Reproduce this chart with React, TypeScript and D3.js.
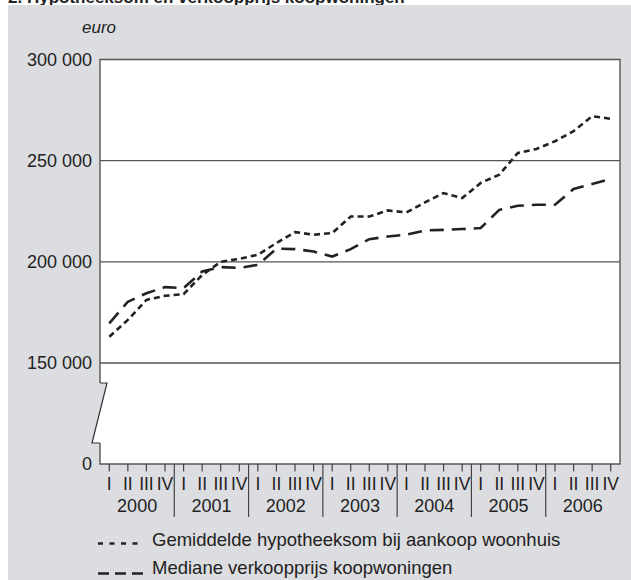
import * as d3 from 'd3';

// Gemiddelde hypotheeksom bij aankoop woonhuis (euro), per kwartaal 2000 I - 2006 IV
const hypotheeksom = [
  163000, 171300, 181200, 183200,
  184000, 193500, 200000, 201500,
  203500, 209300, 214700, 213400,
  214200, 222400, 222400, 225400,
  224400, 229400, 234000, 231500,
  239000, 243100, 253800, 255800,
  259600, 264600, 272000, 270700,
];

// Mediane verkoopprijs koopwoningen (euro)
const mediaan = [
  169600, 180300, 184500, 187500,
  187000, 195200, 197400, 197000,
  198500, 206500, 206300, 205100,
  202600, 206300, 211200, 212500,
  213400, 215500, 215800, 216200,
  216700, 225700, 227700, 228200,
  228200, 236000, 238500, 241000,
];

const years = ['2000', '2001', '2002', '2003', '2004', '2005', '2006'];
const quarters = ['I', 'II', 'III', 'IV'];
const yTicks = [0, 150000, 200000, 250000, 300000];
const gridTicks = [150000, 200000, 250000];

const title = '2. Hypotheeksom en verkoopprijs koopwoningen';
const legendLabels = [
  'Gemiddelde hypotheeksom bij aankoop woonhuis',
  'Mediane verkoopprijs koopwoningen',
];

const W = 631;
const H = 580;
const left = 100;
const right = 620;
const top = 59.5;
const bottom = 464;
const font = '"Liberation Sans", Arial, sans-serif';
const ink = '#222';

const fmt = d3
  .formatLocale({ decimal: ',', thousands: ' ', grouping: [3], currency: ['', ''] })
  .format(',');

export default function App() {
  const keys = years.flatMap((y) => quarters.map((q) => `${y}-${q}`));

  const x = d3.scaleBand<string>().domain(keys).range([left, right]).padding(0);
  const xYear = d3.scaleBand<string>().domain(years).range([left, right]).padding(0);

  // broken axis: 0-150 000 squeezed into the lower part
  const y = d3.scaleLinear().domain([0, 150000, 300000]).range([bottom, 363, top]);

  const line = d3
    .line<number>()
    .x((_, i) => (x(keys[i]) as number) + x.bandwidth() / 2)
    .y((d) => y(d));

  const breakTop = 383;
  const breakBot = 443;
  const plotShape = [
    [left, top],
    [right, top],
    [right, bottom],
    [left, bottom],
    [left, breakBot],
    [92, breakBot],
    [107, breakTop],
    [left, breakTop],
  ];

  return (
    <svg
      width={W}
      height={H}
      style={{ position: 'absolute', left: 0, top: 0 }}
      fontFamily={font}
    >
      <text x={8} y={2.5} fontSize={17} fontWeight="bold" fill={ink}>
        {title}
      </text>
      <rect x={8} y={5} width={W - 8} height={H - 5} fill="#dcdde0" />

      <polygon points={plotShape.map((p) => p.join(',')).join(' ')} fill="#fff" />

      {gridTicks.map((t) => (
        <line key={t} x1={left} x2={right} y1={y(t)} y2={y(t)} stroke="#555" strokeWidth={1.4} />
      ))}

      {/* frame */}
      <path
        d={`M${left},${breakTop}V${top}H${right}V${bottom}H${left}V${breakBot}`}
        fill="none"
        stroke="#555"
        strokeWidth={1.4}
      />
      <path
        d={`M${left},${breakTop}H107L92,${breakBot}H${left}`}
        fill="none"
        stroke="#333"
        strokeWidth={1.2}
      />

      <text x={82} y={33} fontSize={17} fontStyle="italic" fill={ink}>
        euro
      </text>

      {yTicks.map((t) => (
        <text key={t} x={92} y={y(t) + 6} fontSize={18} textAnchor="end" fill={ink}>
          {fmt(t)}
        </text>
      ))}

      {/* quarter ticks and labels */}
      {keys.map((k, i) => {
        const cx = (x(k) as number) + x.bandwidth() / 2;
        return (
          <g key={k}>
            <line x1={cx} x2={cx} y1={bottom} y2={bottom + 7.5} stroke="#444" strokeWidth={1.2} />
            <text x={cx} y={490} fontSize={17.5} textAnchor="middle" fill={ink}>
              {quarters[i % 4]}
            </text>
          </g>
        );
      })}

      {/* year separators and labels */}
      {years.map((yr, i) => {
        const x0 = xYear(yr) as number;
        return (
          <g key={yr}>
            {i > 0 && (
              <line x1={x0} x2={x0} y1={bottom} y2={517} stroke="#444" strokeWidth={1.2} />
            )}
            <text x={x0 + xYear.bandwidth() / 2} y={512} fontSize={18} textAnchor="middle" fill={ink}>
              {yr}
            </text>
          </g>
        );
      })}

      <path
        d={line(mediaan) || ''}
        fill="none"
        stroke={ink}
        strokeWidth={2.6}
        strokeDasharray="14 8"
      />
      <path
        d={line(hypotheeksom) || ''}
        fill="none"
        stroke={ink}
        strokeWidth={2.6}
        strokeDasharray="6 4"
      />

      {/* legend */}
      <line x1={98} x2={138} y1={543.5} y2={543.5} stroke={ink} strokeWidth={2.6} strokeDasharray="5 6.5" />
      <text x={152} y={546} fontSize={18.5} fill={ink}>
        {legendLabels[0]}
      </text>
      <line x1={98} x2={143} y1={573.5} y2={573.5} stroke={ink} strokeWidth={2.6} strokeDasharray="11 6" />
      <text x={152} y={573.5} fontSize={18.5} fill={ink}>
        {legendLabels[1]}
      </text>
    </svg>
  );
}
